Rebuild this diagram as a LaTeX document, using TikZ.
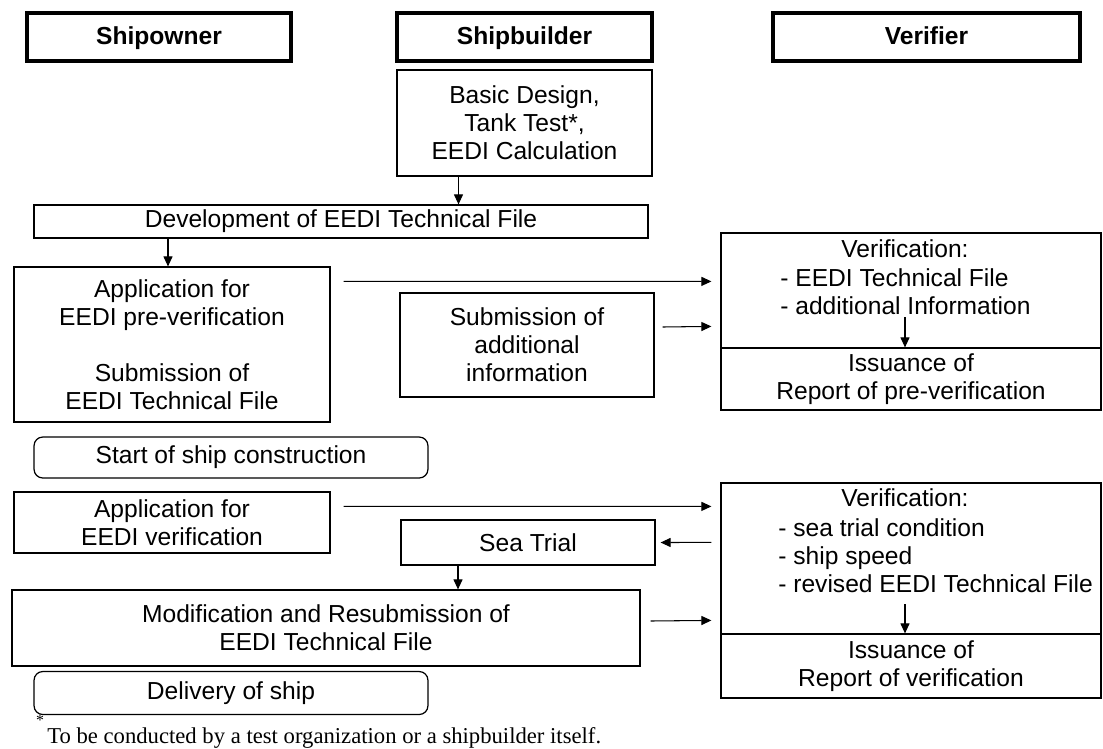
\documentclass[tikz,border=0pt]{standalone}
\usepackage{fontspec}
\setmainfont{Liberation Sans}
\newfontfamily\notefont{Liberation Serif}
\usetikzlibrary{arrows.meta}
\tikzstyle{header}=[rectangle,draw,line width=2.4pt,minimum height=0.96cm,inner sep=0pt,text height=10pt,text depth=2pt,font=\bfseries\fontsize{14}{16}\selectfont]
\tikzstyle{stepbox}=[rectangle,draw,line width=0.7pt,inner sep=0pt,align=center,font=\fontsize{14}{15.9}\selectfont]
\tikzstyle{roundbox}=[stepbox,rounded corners=5pt]
\tikzstyle{plaintext}=[inner sep=0pt,align=left,font=\fontsize{14}{15.9}\selectfont]
\tikzstyle{edge}=[draw,line width=0.6pt,-{Triangle[length=2mm,width=1.8mm]}]

\begin{document}
\begin{tikzpicture}[x=0.02cm,y=-0.02cm]
    \useasboundingbox (0,0) rectangle (1103,748);
    % First we draw the three column headers
    \foreach \pos/\name/\boxw/\label in {{(159,37)/owner/5.28cm/Shipowner}, {(524.5,37)/builder/5.1cm/Shipbuilder}, {(926.5,37)/verifier/6.14cm/Verifier}}
        \node[header, minimum width=\boxw] (\name) at \pos {\label};

    % Pre-verification stage
    \node[stepbox, minimum width=5.1cm, minimum height=2.12cm] (design) at (524.5,123) {Basic Design,\\Tank Test*,\\EEDI Calculation};
    \node[stepbox, minimum width=12.28cm, minimum height=0.66cm] (develop) at (341,221.5) {Development of EEDI Technical File};
    \node[stepbox, minimum width=6.32cm, minimum height=3.1cm] (apppre) at (172,344.5) {Application for\\EEDI pre-verification\\[15.9pt]Submission of\\EEDI Technical File};
    \node[stepbox, minimum width=5.08cm, minimum height=2.08cm] (addinfo) at (527,345) {Submission of\\additional\\information};
    \node[stepbox, minimum width=7.6cm, minimum height=2.3cm] (verpre) at (911,290.5) {};
    \node[plaintext] (verpretitle) at (905,249) {Verification:};
    \node[plaintext, anchor=west] (verprelist) at (780,292) {- EEDI Technical File\\- additional Information};
    \node[stepbox, minimum width=7.6cm, minimum height=1.24cm] (issuepre) at (911,379) {Issuance of\\Report of pre-verification};

    % Construction and verification stage
    \node[roundbox, minimum width=7.88cm, minimum height=0.82cm] (start) at (231,457.5) {Start of ship construction};
    \node[stepbox, minimum width=6.32cm, minimum height=1.22cm] (appver) at (172,522.5) {Application for\\EEDI verification};
    \node[stepbox, minimum width=5.08cm, minimum height=0.9cm] (seatrial) at (528,542.5) {Sea Trial};
    \node[stepbox, minimum width=12.56cm, minimum height=1.52cm] (modify) at (326,628) {Modification and Resubmission of\\EEDI Technical File};
    \node[stepbox, minimum width=7.6cm, minimum height=3.02cm] (ver) at (911,558.5) {};
    \node[plaintext] (vertitle) at (905,498) {Verification:};
    \node[plaintext, anchor=west] (verlist) at (778,555.5) {- sea trial condition\\- ship speed\\- revised EEDI Technical File};
    \node[stepbox, minimum width=7.6cm, minimum height=1.28cm] (issue) at (911,666) {Issuance of\\Report of verification};
    \node[roundbox, minimum width=7.88cm, minimum height=0.86cm] (delivery) at (231,693) {Delivery of ship};

    % Footnote
    \node[inner sep=0pt, font=\notefont\fontsize{9}{9}\selectfont] (star) at (40,720) {*};
    \node[inner sep=0pt, anchor=west, font=\notefont\fontsize{12.9}{14}\selectfont] (note) at (47,738) {To be conducted by a test organization or a shipbuilder itself.};

    % Connect the steps
    \path[edge] ([shift={(-66,0)}]design.south) -- ([shift={(-66,0)}]design.south |- develop.north);
    \path[edge] ([shift={(-4,0)}]apppre.north |- develop.south) -- ([shift={(-4,0)}]apppre.north);
    \path[edge] ([shift={(13,15)}]apppre.north east) -- ([shift={(-9,49)}]verpre.north west);
    \path[edge] ([shift={(8,-18)}]addinfo.east) -- ([shift={(-9,94)}]verpre.north west);
    \path[edge] ([shift={(-6,85)}]verpre.north) -- ([shift={(-6,0)}]issuepre.north);
    \path[edge] ([shift={(13,15)}]appver.north east) -- ([shift={(-9,24)}]ver.north west);
    \path[edge] ([shift={(-9,60)}]ver.north west) -- ([shift={(5,0)}]seatrial.east);
    \path[edge] ([shift={(-70,0)}]seatrial.south) -- ([shift={(-70,0)}]seatrial.south |- modify.north);
    \path[edge] ([shift={(10,-7)}]modify.east) -- ([shift={(-9,138)}]ver.north west);
    \path[edge] ([shift={(-6,122)}]ver.north) -- ([shift={(-6,0)}]issue.north);
\end{tikzpicture}
\end{document}
